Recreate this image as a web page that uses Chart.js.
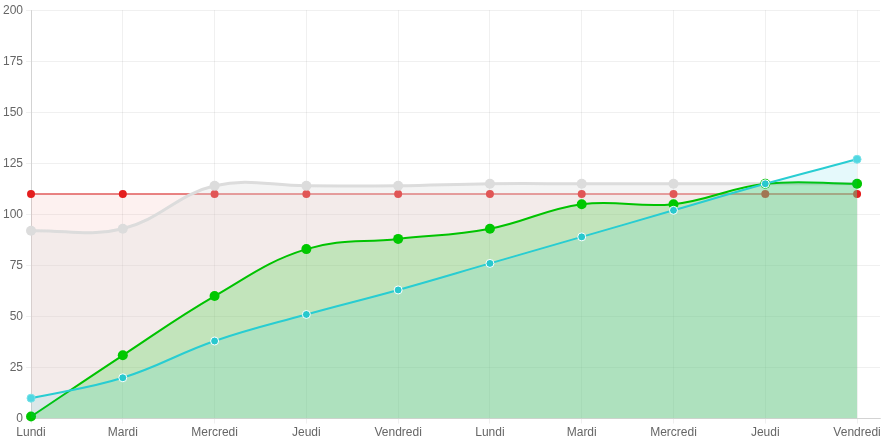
<!DOCTYPE html>
<html>
<head>
<meta charset="utf-8">
<script src="https://cdn.jsdelivr.net/npm/chart.js@4/dist/chart.umd.min.js"></script>
<style>html,body{margin:0;padding:0;background:#fff;}canvas{display:block;}</style>
</head>
<body>
<canvas id="c" width="885" height="442"></canvas>
<script>
const labels = ['Lundi','Mardi','Mercredi','Jeudi','Vendredi','Lundi','Mardi','Mercredi','Jeudi','Vendredi'];
const redValues = [110,110,110,110,110,110,110,110,110,110];
const greyValues = [92,93,114,114,114,115,115,115,115,115];
const greenValues = [1,31,60,83,88,93,105,105,115,115];
const cyanValues = [10,20,38,51,63,76,89,102,115,127];
const yMin = 0, yMax = 200, yStep = 25;

const toPts = arr => arr.map((v,i)=>({x:i,y:v}));
const cyanPointBg = cyanValues.map((v,i)=> (i===0||i===cyanValues.length-1) ? 'rgba(80,215,225,1)' : 'rgba(40,200,205,1)');
const cyanPointBorder = cyanValues.map((v,i)=> (i===0||i===cyanValues.length-1) ? 'rgba(120,225,232,1)' : '#ffffff');

Chart.defaults.font.family = 'Helvetica, Arial, "Liberation Sans", sans-serif';
Chart.defaults.font.size = 12;
Chart.defaults.color = '#666';

new Chart(document.getElementById('c'), {
  type: 'line',
  data: {
    datasets: [
      {
        data: toPts(cyanValues), order: 1, clip: false,
        borderColor: 'rgba(40,205,210,1)', borderWidth: 2,
        backgroundColor: 'rgba(0,200,220,0.1)', fill: 'origin',
        pointRadius: 4, pointBackgroundColor: cyanPointBg, pointBorderColor: cyanPointBorder, pointBorderWidth: 1,
        tension: 0.4
      },
      {
        data: toPts(greenValues), order: 2, clip: false,
        borderColor: 'rgba(0,195,0,1)', borderWidth: 2,
        backgroundColor: 'rgba(0,200,0,0.2)', fill: 'origin',
        pointRadius: 5, pointBackgroundColor: 'rgba(0,200,0,1)', pointBorderColor: 'rgba(0,200,0,1)', pointBorderWidth: 0,
        tension: 0.4
      },
      {
        data: toPts(greyValues), order: 3, clip: false,
        borderColor: 'rgba(220,220,220,1)', borderWidth: 3,
        backgroundColor: 'rgba(220,220,220,0.3)', fill: 'origin',
        pointRadius: 5, pointBackgroundColor: 'rgba(220,220,220,1)', pointBorderColor: 'rgba(220,220,220,1)', pointBorderWidth: 0,
        tension: 0.4
      },
      {
        data: toPts(redValues), order: 4, clip: false,
        borderColor: 'rgba(228,100,100,0.8)', borderWidth: 2,
        backgroundColor: 'rgba(231,76,60,0.08)', fill: 'origin',
        pointRadius: 4, pointBackgroundColor: 'rgba(228,30,30,1)', pointBorderColor: 'rgba(228,30,30,1)', pointBorderWidth: 0,
        tension: 0.4
      }
    ]
  },
  options: {
    responsive: false,
    animation: false,
    layout: { padding: { left: 0, right: 0, top: 4, bottom: 0 } },
    plugins: { legend: { display: false }, tooltip: { enabled: false } },
    scales: {
      x: {
        type: 'linear', min: 0, max: 9.25,
        grid: { color: 'rgba(0,0,0,0.06)', tickLength: 5 },
        border: { color: 'rgba(0,0,0,0.12)' },
        ticks: {
          stepSize: 1, includeBounds: false, autoSkip: false, maxRotation: 0, padding: 2,
          callback: v => (Number.isInteger(v) && labels[v] !== undefined) ? labels[v] : ''
        },
        afterFit: s => { s.paddingRight = 0; s.paddingLeft = 0; }
      },
      y: {
        min: yMin, max: yMax,
        grid: { color: 'rgba(0,0,0,0.06)', tickLength: 5 },
        border: { color: 'rgba(0,0,0,0.12)' },
        ticks: { stepSize: yStep, padding: 3 }
      }
    }
  }
});
</script>
</body>
</html>
